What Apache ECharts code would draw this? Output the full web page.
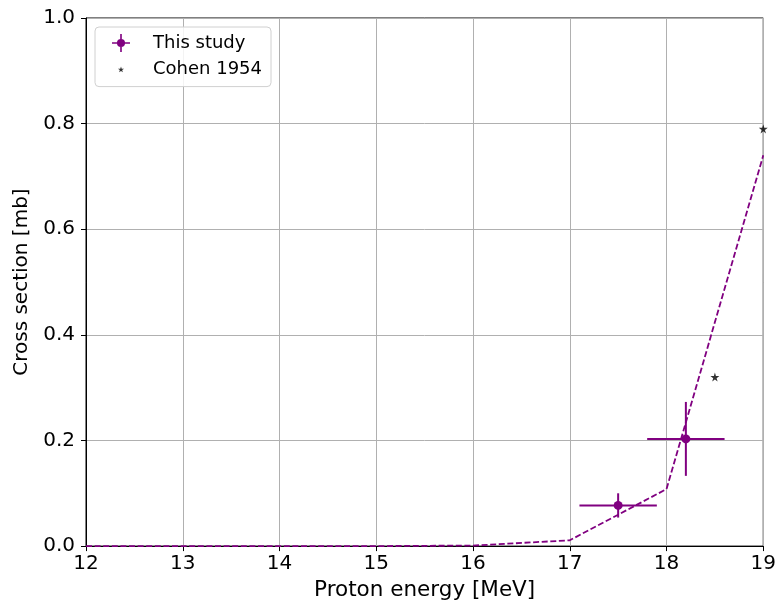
<!DOCTYPE html>
<html>
<head>
<meta charset="utf-8">
<script src="https://cdn.jsdelivr.net/npm/echarts@6/dist/echarts.min.js"></script>
<style>
  html, body { margin: 0; padding: 0; background: #fff; }
  #chart { width: 779px; height: 606px; }
</style>
</head>
<body>
<div id="chart"></div>
<script>
// Measured points with uncertainties (energy MeV, cross section mb)
const studyEnergy = [17.5, 18.2];
const studyXs = [0.077, 0.203];
const studyEnergyErr = [0.4, 0.4];
const studyXsErr = [0.023, 0.07];

// Earlier measurement
const cohenEnergy = [18.5, 19.0];
const cohenXs = [0.32, 0.79];

// Calculated excitation function (dashed)
const calcEnergy = [12, 13, 14, 15, 16, 17, 18, 19];
const calcXs = [0.0, 0.0, 0.0, 0.0, 0.001, 0.011, 0.108, 0.74];

const xTicks = [12, 13, 14, 15, 16, 17, 18, 19];
const yTicks = [0.0, 0.2, 0.4, 0.6, 0.8, 1.0];

const PURPLE = '#800080';
const FONT = 'DejaVu Sans';
const STAR = 'path://M50,0 L61,35 L98,35 L68,57 L79,91 L50,70 L21,91 L32,57 L2,35 L39,35 Z';
// legend star: same shape, padded with empty sub-paths so it stays small inside the icon box
const STAR_SMALL = 'path://M50,0 L61,35 L98,35 L68,57 L79,91 L50,70 L21,91 L32,57 L2,35 L39,35 Z M-90,-90 L-90,-90 Z M190,190 L190,190 Z';
const ERRICON = 'path://M0,9.1H20V10.9H0Z M9.1,0H10.9V20H9.1Z M14.5,10A4.5,4.5 0 1 1 5.5,10A4.5,4.5 0 1 1 14.5,10Z';

const chart = echarts.init(document.getElementById('chart'), null, { renderer: 'canvas' });

const errData = studyEnergy.map((e, i) => [e, studyXs[i], studyEnergyErr[i], studyXsErr[i]]);

chart.setOption({
  animation: false,
  backgroundColor: '#fff',
  grid: {
    left: 86, right: 15, top: 18, bottom: 59,
    show: true, borderColor: '#000', borderWidth: 1, backgroundColor: 'transparent'
  },
  legend: {
    left: 95, top: 27,
    orient: 'vertical',
    padding: [7, 9, 8, 17],
    itemWidth: 18, itemHeight: 18,
    itemGap: 8.6,
    backgroundColor: 'rgba(255,255,255,0.85)',
    borderColor: '#d0d0d0', borderWidth: 1, borderRadius: 4,
    textStyle: { fontFamily: FONT, fontSize: 18, color: '#000', padding: [0, 0, 0, 18] },
    data: [
      { name: 'This study', icon: ERRICON, itemStyle: { color: PURPLE } },
      { name: 'Cohen 1954', icon: STAR_SMALL, itemStyle: { color: '#000' } }
    ]
  },
  xAxis: {
    type: 'value', min: 12, max: 19, interval: 1,
    name: 'Proton energy [MeV]', nameLocation: 'middle', nameGap: 31,
    nameTextStyle: { fontFamily: FONT, fontSize: 21.5, color: '#000' },
    axisLine: { show: true, onZero: false, lineStyle: { color: '#000', width: 1 } },
    axisTick: { show: true, length: 5, lineStyle: { color: '#000' } },
    axisLabel: { fontFamily: FONT, fontSize: 20, color: '#000', margin: 8,
      formatter: v => xTicks.includes(v) ? String(v) : '' },
    splitLine: { show: true, lineStyle: { color: '#b0b0b0', width: 1 } }
  },
  yAxis: {
    type: 'value', min: 0, max: 1, interval: 0.2,
    name: 'Cross section [mb]', nameLocation: 'middle', nameGap: 52,
    nameTextStyle: { fontFamily: FONT, fontSize: 20, color: '#000' },
    axisLine: { show: true, onZero: false, lineStyle: { color: '#000', width: 1 } },
    axisTick: { show: true, length: 5, lineStyle: { color: '#000' } },
    axisLabel: { fontFamily: FONT, fontSize: 20, color: '#000', margin: 11,
      formatter: v => yTicks.find(t => Math.abs(t - v) < 1e-9).toFixed(1) },
    splitLine: { show: true, lineStyle: { color: '#b0b0b0', width: 1 } }
  },
  series: [
    {
      name: 'calc', type: 'line',
      data: calcEnergy.map((e, i) => [e, calcXs[i]]),
      showSymbol: false, symbol: 'none',
      lineStyle: { color: PURPLE, width: 1.8, type: [6, 2.6] },
      z: 2, silent: true
    },
    {
      name: 'This study', type: 'custom',
      data: errData,
      renderItem: (params, api) => {
        const x = api.value(0), y = api.value(1), xe = api.value(2), ye = api.value(3);
        const l = api.coord([x - xe, y]), r = api.coord([x + xe, y]);
        const t = api.coord([x, y + ye]), b = api.coord([x, y - ye]);
        const c = api.coord([x, y]);
        const st = { stroke: PURPLE, lineWidth: 2 };
        return {
          type: 'group',
          children: [
            { type: 'line', shape: { x1: l[0], y1: l[1], x2: r[0], y2: r[1] }, style: st },
            { type: 'line', shape: { x1: t[0], y1: t[1], x2: b[0], y2: b[1] }, style: st },
            { type: 'circle', shape: { cx: c[0], cy: c[1], r: 4.5 }, style: { fill: PURPLE } }
          ]
        };
      },
      itemStyle: { color: PURPLE },
      z: 3
    },
    {
      name: 'Cohen 1954', type: 'scatter',
      data: cohenEnergy.map((e, i) => [e, cohenXs[i]]),
      symbol: STAR, symbolSize: 9,
      itemStyle: { color: '#000' },
      z: 4
    }
  ]
});
</script>
</body>
</html>
